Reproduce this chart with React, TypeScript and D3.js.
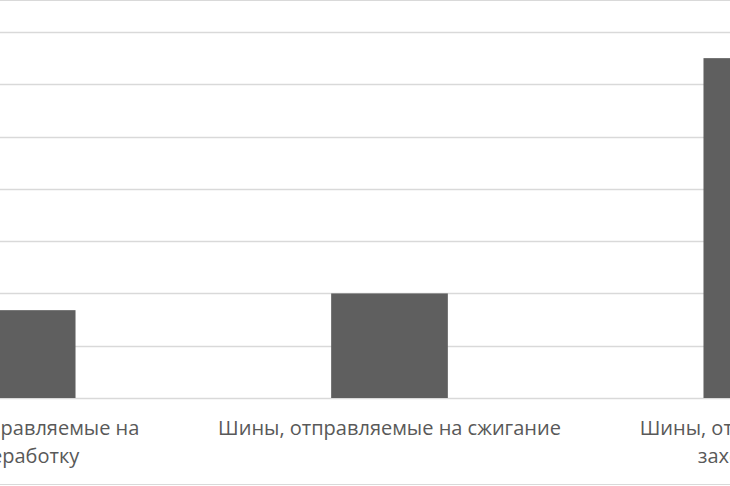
import React, { useRef, useEffect } from 'react';
import * as d3 from 'd3';

const categories = [
  'Шины, отправляемые на переработку',
  'Шины, отправляемые на сжигание',
  'Шины, отправляемые на захоронение',
];
const values = [1.68, 2.0, 6.5];
const yTicks = [0, 1, 2, 3, 4, 5, 6, 7];

const W = 730;
const H = 486;

const App: React.FC = () => {
  const svgRef = useRef<SVGSVGElement>(null);

  useEffect(() => {
    if (!svgRef.current) return;
    const svg = d3.select(svgRef.current);
    svg.selectAll('*').remove();

    // plot area is wider than the visible crop
    const x = d3.scaleBand<string>()
      .domain(categories)
      .range([-169, 948])
      .paddingInner(0.6866)
      .paddingOuter(0.3433);

    const y = d3.scaleLinear().domain([0, 7]).range([398, 32]);

    // chart frame
    svg.append('rect')
      .attr('x', -10).attr('y', 0.5)
      .attr('width', W + 20).attr('height', 484)
      .attr('fill', '#fff')
      .attr('stroke', '#d9d9d9')
      .attr('stroke-width', 1);

    // gridlines
    svg.append('g')
      .selectAll('line')
      .data(yTicks)
      .join('line')
      .attr('x1', -200).attr('x2', W + 200)
      .attr('y1', d => Math.round(y(d)) + 0.5)
      .attr('y2', d => Math.round(y(d)) + 0.5)
      .attr('stroke', '#d9d9d9')
      .attr('stroke-width', 1.3);

    // bars
    svg.append('g')
      .selectAll('rect')
      .data(values)
      .join('rect')
      .attr('x', (_, i) => x(categories[i])!)
      .attr('width', x.bandwidth())
      .attr('y', d => y(d))
      .attr('height', d => y(0) - y(d))
      .attr('fill', '#5f5f5f');

    // category labels, wrapped like the spreadsheet does
    const maxW = 355;
    const lineH = 28;
    categories.forEach(c => {
      const cx = x(c)! + x.bandwidth() / 2;
      const t = svg.append('text')
        .attr('x', cx).attr('y', 435)
        .attr('text-anchor', 'middle')
        .attr('fill', '#595959')
        .style('font-family', '"Open Sans", sans-serif')
        .style('font-size', '20px');
      const words = c.split(' ');
      let line: string[] = [];
      let lineNo = 0;
      let tspan = t.append('tspan').attr('x', cx).attr('y', 435);
      words.forEach(w => {
        line.push(w);
        tspan.text(line.join(' '));
        if ((tspan.node() as SVGTSpanElement).getComputedTextLength() > maxW && line.length > 1) {
          line.pop();
          tspan.text(line.join(' '));
          line = [w];
          lineNo++;
          tspan = t.append('tspan').attr('x', cx).attr('y', 435 + lineNo * lineH).text(w);
        }
      });
    });
  }, []);

  return (
    <svg
      ref={svgRef}
      width={W}
      height={H}
      style={{ position: 'absolute', left: 0, top: 0, background: '#fff' }}
    />
  );
};

export default App;
